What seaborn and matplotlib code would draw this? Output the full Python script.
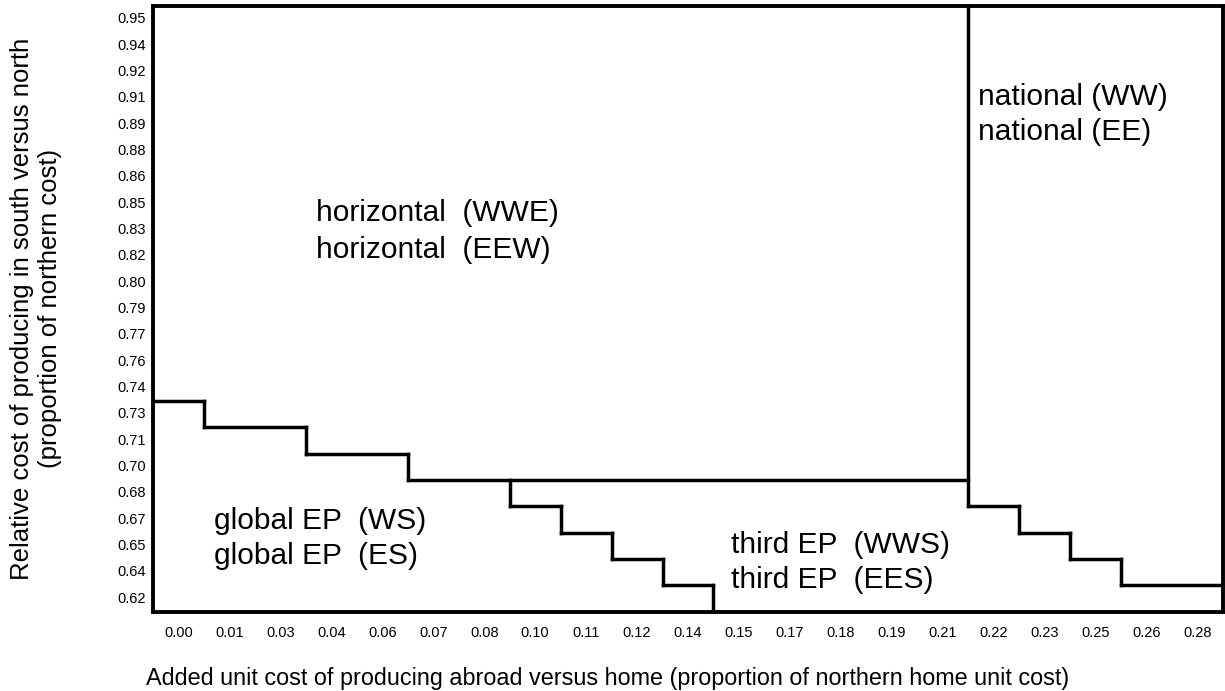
import numpy as np
import pandas as pd
import seaborn as sns
import matplotlib.pyplot as plt
from matplotlib.colors import ListedColormap
from matplotlib.collections import LineCollection

x_labels = ['0.00', '0.01', '0.03', '0.04', '0.06', '0.07', '0.08', '0.10', '0.11', '0.12', '0.14',
            '0.15', '0.17', '0.18', '0.19', '0.21', '0.22', '0.23', '0.25', '0.26', '0.28']
y_labels = ['0.95', '0.94', '0.92', '0.91', '0.89', '0.88', '0.86', '0.85', '0.83', '0.82', '0.80', '0.79',
            '0.77', '0.76', '0.74', '0.73', '0.71', '0.70', '0.68', '0.67', '0.65', '0.64', '0.62']

# cells per column (counted up from the bottom row) in each regime
global_ep_rows = [8, 7, 7, 6, 6, 5, 5, 4, 3, 2, 1, 0, 0, 0, 0, 0, 0, 0, 0, 0, 0]
third_ep_rows = [0, 0, 0, 0, 0, 0, 0, 1, 2, 3, 4, 5, 5, 5, 5, 5, 4, 3, 2, 1, 1]
national_start = 16  # first column where national replaces horizontal

region_text = [
    ('horizontal  (WWE)', 3.2, 7.85), ('horizontal  (EEW)', 3.2, 9.25),
    ('national (WW)', 16.2, 3.45), ('national (EE)', 16.2, 4.8),
    ('global EP  (WS)', 1.2, 19.55), ('global EP  (ES)', 1.2, 20.9),
    ('third EP  (WWS)', 11.35, 20.45), ('third EP  (EES)', 11.35, 21.8),
]

plt.rcParams['font.family'] = ['Liberation Sans', 'DejaVu Sans']

n_rows, n_cols = len(y_labels), len(x_labels)
# 0 horizontal, 1 national, 2 third EP, 3 global EP
regime = np.zeros((n_rows, n_cols), dtype=int)
for j in range(n_cols):
    g, t = global_ep_rows[j], third_ep_rows[j]
    if j >= national_start:
        regime[:, j] = 1
    regime[n_rows - g - t:n_rows - g, j] = 2
    regime[n_rows - g:, j] = 3
df = pd.DataFrame(regime, index=y_labels, columns=x_labels)

fig = plt.figure(figsize=(12.25, 6.91), dpi=100)
ax = fig.add_axes([153 / 1225, 1 - 611.7 / 691, 1070 / 1225, 605.7 / 691])
sns.heatmap(df, cmap=ListedColormap(['white']), cbar=False, ax=ax,
            xticklabels=True, yticklabels=True)

# regime boundaries wherever neighbouring cells differ, merged into runs
vert, horiz = {}, {}
for i in range(n_rows):
    for j in range(n_cols):
        if j + 1 < n_cols and regime[i, j] != regime[i, j + 1]:
            vert.setdefault(j + 1, []).append(i)
        if i + 1 < n_rows and regime[i, j] != regime[i + 1, j]:
            horiz.setdefault(i + 1, []).append(j)


def runs(cells):
    cells = sorted(cells)
    out, start = [], cells[0]
    for a, b in zip(cells, cells[1:] + [None]):
        if b != a + 1:
            out.append((start, a + 1))
            start = b
    return out


segs = []
for x, cells in vert.items():
    segs += [[(x, a), (x, b)] for a, b in runs(cells)]
for y, cells in horiz.items():
    segs += [[(a, y), (b, y)] for a, b in runs(cells)]
ax.add_collection(LineCollection(segs, colors='black', linewidths=2.5, capstyle='projecting'))

for s in ax.spines.values():
    s.set_visible(True)
    s.set_linewidth(2.8)
    s.set_color('black')

ax.tick_params(axis='both', length=0, labelsize=10.5)
ax.tick_params(axis='x', pad=10, labelrotation=0)
ax.tick_params(axis='y', pad=5, labelrotation=0)

for txt, x, y in region_text:
    ax.text(x, y, txt, fontsize=21.5, ha='left', va='center')

ax.set_xlabel('Added unit cost of producing abroad versus home (proportion of northern home unit cost)',
              fontsize=16.8, va='center')
ax.xaxis.set_label_coords((608 - 153) / 1070, -(678 - 611.7) / 605.7)
ax.set_ylabel('Relative cost of producing in south versus north\n(proportion of northern cost)',
              fontsize=18.5, va='center', multialignment='center')
ax.yaxis.set_label_coords(-(153 - 36) / 1070, 0.5)

fig.savefig('out.png', dpi=100)
